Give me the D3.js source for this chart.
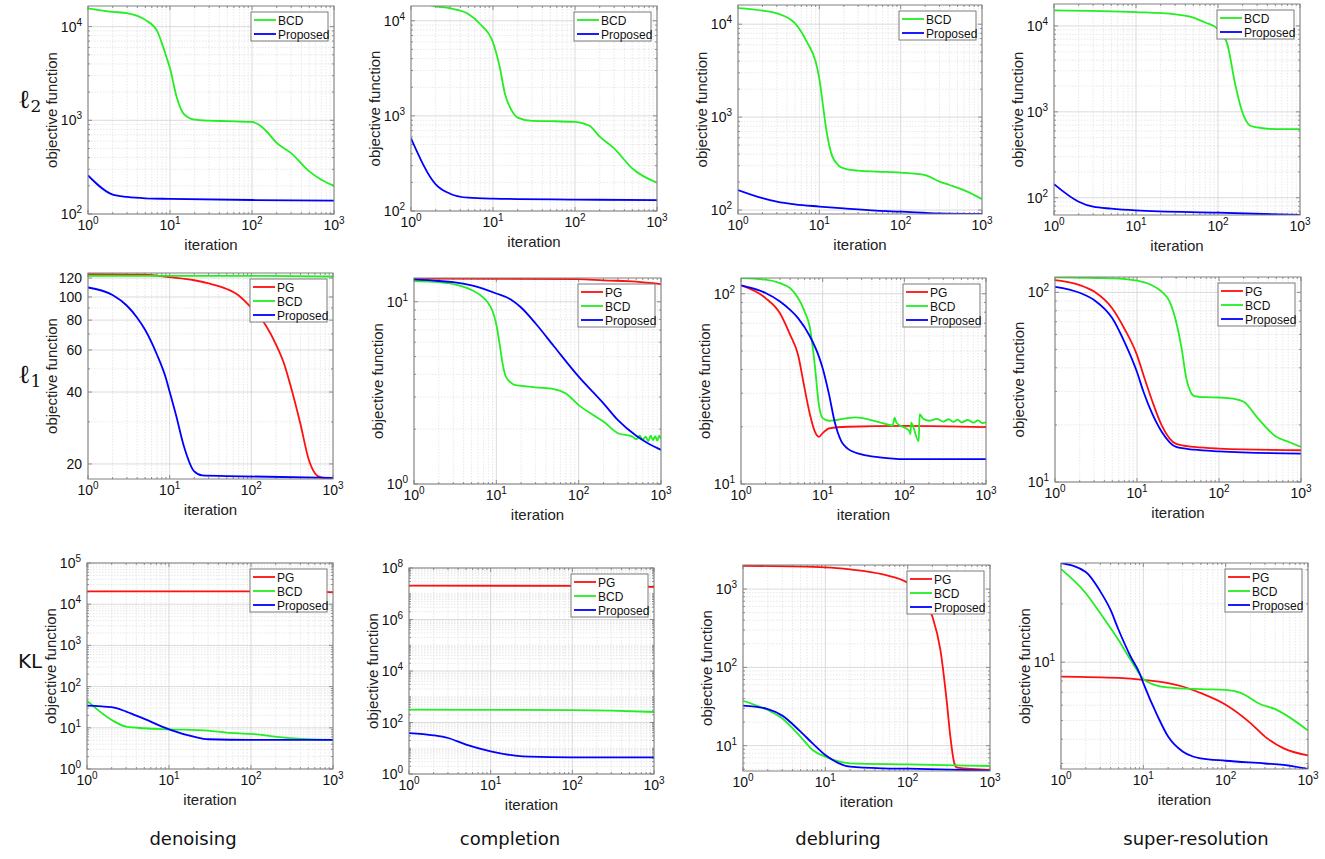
<!DOCTYPE html>
<html><head><meta charset="utf-8">
<script src="https://cdn.jsdelivr.net/npm/d3@7"></script>
<style>body{margin:0;background:#fff;} svg{display:block;font-family:"Liberation Sans",Arial,sans-serif;}</style>
</head><body><svg id="c" width="1325" height="859"></svg>
<script>
// ---------- categories ----------
const tasks = ["denoising", "completion", "debluring", "super-resolution"];
const losses = ["ℓ2", "ℓ1", "KL"];
const methods = ["PG", "BCD", "Proposed"];
const xTicks = [1, 10, 100, 1000];

// ---------- series values: [iteration, objective] ----------
// l2 row
const l2_den_BCD = [[1,15700],[2,14400],[3,13900],[5,11800],[7,8900],[8.2,6150],[9,4800],[10,3600],[12,1800],[15,1150],[20,1015],[30,990],[50,980],[100,960],[120,900],[150,764],[200,573],[300,447],[500,285],[700,232],[1000,200]];
const l2_den_Prop = [[1,258],[2,161],[3,152],[5,147],[10,145],[100,141],[1000,139]];
const l2_com_BCD = [[1,16500],[2,14200],[3,13500],[5,11800],[7,9200],[10,5900],[12,3340],[14,1700],[17,1130],[20,960],[30,885],[50,880],[100,865],[150,787],[200,606],[300,456],[500,280],[1000,198]];
const l2_com_Prop = [[1,582],[2,191],[3,152],[5,138],[10,135],[100,132],[1000,130]];
const l2_deb_BCD = [[1,14900],[2,14000],[3,13100],[5,10250],[7,6500],[9,3970],[10,2600],[11,1410],[12,793],[14,408],[17,305],[20,281],[30,265],[50,259],[100,253],[200,238],[300,202],[400,186],[600,164],[1000,131]];
const l2_deb_Prop = [[1,164],[2,134],[3,123],[5,115],[10,109],[20,104],[50,98.4],[100,96],[300,92],[1000,90.6]];
const l2_sr_BCD = [[1,15200],[10,14500],[30,13650],[50,12500],[70,10950],[100,9200],[130,6100],[162,2100],[195,1035],[247,690],[300,660],[500,630],[1000,630]];
const l2_sr_Prop = [[1,144],[2,90],[3,78.7],[5,74.7],[10,71.3],[100,67],[1000,63]];
// l1 row
const l1_den_PG = [[1,124.7],[5,123.9],[10,121],[20,117.5],[30,114],[50,108],[70,101.5],[100,90.1],[150,76.2],[200,63.4],[250,52.9],[300,42.9],[400,29.3],[500,21.1],[600,18.3],[700,17.6],[1000,17.3]];
const l1_den_BCD = [[1,122.7],[100,122.5],[1000,121.8]];
const l1_den_Prop = [[1,109.6],[2,101.9],[3,91.9],[4,81.9],[5,72.9],[7,57.3],[9,45.7],[10,40.1],[12,31.9],[15,23.6],[20,18.6],[25,17.9],[50,17.8],[1000,17.5]];
const l1_com_PG = [[1,13.4],[100,13.3],[200,13.1],[500,12.9],[1000,12.5]];
const l1_com_BCD = [[1,13.0],[2,12.8],[3,12.5],[5,11.6],[7,10.5],[8,9.8],[9,8.9],[10,7.5],[11,5.8],[12,4.5],[13,3.9],[15,3.6],[17,3.49],[20,3.46],[30,3.39],[50,3.32],[70,3.14],[100,2.71],[150,2.39],[200,2.2],[300,1.9],[450,1.82],[500,1.76],[550,1.84],[600,1.75],[650,1.82],[700,1.72],[750,1.84],[800,1.74],[850,1.83],[900,1.73],[950,1.84],[1000,1.76]];
const l1_com_Prop = [[1,13.26],[2,13.0],[3,12.8],[5,12.3],[10,11.1],[15,10.3],[20,9.3],[30,7.6],[50,5.7],[100,3.88],[200,2.77],[300,2.24],[500,1.84],[700,1.67],[1000,1.54]];
const l1_deb_PG = [[1,110.7],[2,94.9],[3,79],[4,60.8],[5,47.7],[6,31.9],[7,23.1],[8,18.9],[9,17.7],[10,18.5],[12,19.6],[20,20.0],[100,20.2],[1000,19.9]];
const l1_deb_BCD = [[1,120.8],[2,118.5],[3,113.6],[4,107],[5,94.9],[6,80.8],[7,65.9],[8,42.3],[9,26],[10,22.2],[12,21.5],[20,22.2],[25,22.4],[50,21.1],[72,20.3],[76,22.3],[80,21.0],[115,19.0],[119,18.3],[121,21.0],[150,16.8],[154,23.3],[170,22.0],[200,21.5],[250,22.0],[300,21.3],[350,21.9],[400,21.2],[450,21.8],[500,21.1],[600,21.7],[700,21.0],[800,21.6],[900,20.9],[1000,21.1]];
const l1_deb_Prop = [[1,110.7],[2,100.9],[3,91.1],[4,82.3],[5,74.5],[7,59.6],[9,46.7],[10,40.6],[12,29.4],[14,21.3],[17,16.7],[20,15.4],[30,14.3],[50,13.8],[100,13.5],[1000,13.5]];
const l1_sr_PG = [[1,116.1],[2,109.3],[3,100.9],[5,82.2],[7,64.5],[10,46.7],[12,36.6],[15,27.5],[20,19.9],[30,15.9],[50,15.3],[100,15],[1000,14.7]];
const l1_sr_BCD = [[1,120],[5,118.6],[10,115.3],[15,109.4],[20,100.9],[25,89.3],[30,70],[35,50.6],[40,35.1],[45,29.9],[50,28.4],[70,28],[100,27.9],[150,27.5],[200,26.5],[300,21.6],[500,17.3],[700,16.3],[1000,15.3]];
const l1_sr_Prop = [[1,107],[2,99.5],[3,91.1],[5,73],[7,55],[10,38],[12,29.9],[15,23.4],[20,18.4],[30,15.3],[50,14.8],[100,14.5],[1000,14.1]];
// KL row
const kl_den_PG = [[1,20500],[500,20400],[1000,19400]];
const kl_den_BCD = [[1,45.8],[2,15.5],[3,10.7],[5,9.75],[10,9.2],[30,8.55],[50,7.64],[100,7.1],[300,5.6],[1000,5.07]];
const kl_den_Prop = [[1,34.7],[2,31.6],[3,24.8],[5,16.4],[10,9.2],[20,6.1],[30,5.27],[100,5.07],[1000,5.07]];
const kl_com_PG = [[1,2.06e7],[500,2.03e7],[1000,1.83e7]];
const kl_com_BCD = [[1,315],[100,305],[300,290],[1000,256]];
const kl_com_Prop = [[1,39],[2,31.8],[3,25],[5,13.8],[10,7.6],[20,5.15],[30,4.7],[100,4.44],[1000,4.44]];
const kl_deb_PG = [[1,1986],[10,1892],[20,1783],[50,1538],[100,1204],[150,798],[200,444],[250,166],[300,34.7],[330,13],[370,5.9],[400,5.23],[1000,4.89]];
const kl_deb_BCD = [[1,37.5],[2,28.5],[3,22.3],[5,13],[7,8.8],[10,7.24],[20,5.95],[100,5.78],[1000,5.5]];
const kl_deb_Prop = [[1,32.4],[2,29.4],[3,24.2],[5,15.1],[7,10.7],[10,7.6],[20,5.4],[50,5.14],[100,5.09],[1000,4.8]];
const kl_sr_PG = [[1,8.43],[5,8.3],[10,8.11],[20,7.8],[30,7.49],[50,6.92],[100,6.03],[200,4.85],[300,4.13],[500,3.6],[1000,3.3]];
const kl_sr_BCD = [[1,30.2],[2,22.7],[3,17.9],[5,13],[7,10.3],[10,8.2],[15,7.55],[20,7.42],[50,7.26],[100,7.2],[150,6.97],[200,6.52],[250,6.14],[400,5.72],[1000,4.44]];
const kl_sr_Prop = [[1,32.5],[2,29.2],[3,23.2],[4,18.6],[5,14.7],[7,10.7],[9,8.77],[10,7.79],[15,5.24],[20,4.13],[30,3.46],[40,3.26],[50,3.19],[100,3.1],[300,3.0],[500,2.95],[1000,2.81]];

// ---------- y-axis ranges and tick labels ----------
const yDomains = [
  [100,16600],[100,14300],[90.6,16100],[63,18000],
  [17.3,126],[1,13.5],[10,121],[10,120.5],
  [1,1e5],[1,1e8],[4.75,2030],[2.81,32.5]
];
const yTicksList = [
  [1e2,1e3,1e4],[1e2,1e3,1e4],[1e2,1e3,1e4],[1e2,1e3,1e4],
  [20,40,60,80,100,120],[1,10],[10,100],[10,100],
  [1,10,100,1e3,1e4,1e5],[1,1e2,1e4,1e6,1e8],[10,100,1000],[10]
];
const panelSeries = [
  [["BCD",l2_den_BCD],["Proposed",l2_den_Prop]],
  [["BCD",l2_com_BCD],["Proposed",l2_com_Prop]],
  [["BCD",l2_deb_BCD],["Proposed",l2_deb_Prop]],
  [["BCD",l2_sr_BCD],["Proposed",l2_sr_Prop]],
  [["PG",l1_den_PG],["BCD",l1_den_BCD],["Proposed",l1_den_Prop]],
  [["PG",l1_com_PG],["BCD",l1_com_BCD],["Proposed",l1_com_Prop]],
  [["PG",l1_deb_PG],["BCD",l1_deb_BCD],["Proposed",l1_deb_Prop]],
  [["PG",l1_sr_PG],["BCD",l1_sr_BCD],["Proposed",l1_sr_Prop]],
  [["PG",kl_den_PG],["BCD",kl_den_BCD],["Proposed",kl_den_Prop]],
  [["PG",kl_com_PG],["BCD",kl_com_BCD],["Proposed",kl_com_Prop]],
  [["PG",kl_deb_PG],["BCD",kl_deb_BCD],["Proposed",kl_deb_Prop]],
  [["PG",kl_sr_PG],["BCD",kl_sr_BCD],["Proposed",kl_sr_Prop]]
];

// ---------- layout (pixel boxes: left, top, right, bottom) ----------
const boxes = [
  [88,6,334,214],[411,6,657,211],[738,5,982,214],[1054,4,1300,215],
  [88,273,333,479],[414,278,661,484],[741,278,986,484],[1055,277,1301,482],
  [87,563,333,769],[409,568,654,774],[743,565,990,771],[1061,563,1308,769]
];
const colors = {PG:"#ff1010", BCD:"#22ee22", Proposed:"#0000ff"};

const svg = d3.select("#c");
svg.append("rect").attr("width",1325).attr("height",859).attr("fill","#fff");
const defs = svg.append("defs");

function expLabel(sel, v){
  const e = Math.round(Math.log10(v));
  sel.append("tspan").text("10");
  sel.append("tspan").attr("dy",-6).attr("font-size",10).text(e);
}

boxes.forEach((b,i)=>{
  const [x0,y0,x1,y1] = b;
  const x = d3.scaleLog().domain([1,1000]).range([x0,x1]);
  const y = d3.scaleLog().domain(yDomains[i]).range([y1,y0]);
  const g = svg.append("g");
  const yT = yTicksList[i];
  const [lo,hi] = yDomains[i];

  const xMinor = [];
  for(let e=0;e<3;e++) for(let k=2;k<=9;k++) xMinor.push(k*Math.pow(10,e));
  const yMinor = [];
  for(let e=Math.floor(Math.log10(lo))-1;e<=Math.ceil(Math.log10(hi));e++)
    for(let k=1;k<=9;k++){ const v=k*Math.pow(10,e); if(v>lo*1.0001 && v<hi*0.9999 && !yT.some(t=>Math.abs(t-v)/v<1e-6)) yMinor.push(v); }

  g.selectAll(".xm").data(xMinor).join("line")
    .attr("x1",d=>x(d)).attr("x2",d=>x(d)).attr("y1",y0).attr("y2",y1)
    .attr("stroke","#e2e2e2").attr("stroke-width",0.8).attr("stroke-dasharray","1.5,1.5");
  g.selectAll(".ym").data(yMinor).join("line")
    .attr("x1",x0).attr("x2",x1).attr("y1",d=>y(d)).attr("y2",d=>y(d))
    .attr("stroke","#e2e2e2").attr("stroke-width",0.8).attr("stroke-dasharray","1.5,1.5");
  g.selectAll(".xM").data(xTicks).join("line")
    .attr("x1",d=>x(d)).attr("x2",d=>x(d)).attr("y1",y0).attr("y2",y1)
    .attr("stroke","#d2d2d2").attr("stroke-width",0.8);
  g.selectAll(".yM").data(yT).join("line")
    .attr("x1",x0).attr("x2",x1).attr("y1",d=>y(d)).attr("y2",d=>y(d))
    .attr("stroke","#d2d2d2").attr("stroke-width",0.8);

  const tk = g.append("g").attr("stroke","#777").attr("stroke-width",0.8);
  xTicks.forEach(v=>{
    tk.append("line").attr("x1",x(v)).attr("x2",x(v)).attr("y1",y1).attr("y2",y1-4);
    tk.append("line").attr("x1",x(v)).attr("x2",x(v)).attr("y1",y0).attr("y2",y0+4);
  });
  xMinor.forEach(v=>{
    tk.append("line").attr("x1",x(v)).attr("x2",x(v)).attr("y1",y1).attr("y2",y1-2);
    tk.append("line").attr("x1",x(v)).attr("x2",x(v)).attr("y1",y0).attr("y2",y0+2);
  });
  yT.forEach(v=>{
    tk.append("line").attr("x1",x0).attr("x2",x0+4).attr("y1",y(v)).attr("y2",y(v));
    tk.append("line").attr("x1",x1).attr("x2",x1-4).attr("y1",y(v)).attr("y2",y(v));
  });
  yMinor.forEach(v=>{
    tk.append("line").attr("x1",x0).attr("x2",x0+2).attr("y1",y(v)).attr("y2",y(v));
    tk.append("line").attr("x1",x1).attr("x2",x1-2).attr("y1",y(v)).attr("y2",y(v));
  });

  defs.append("clipPath").attr("id","clip"+i).append("rect")
    .attr("x",x0).attr("y",y0).attr("width",x1-x0).attr("height",y1-y0);

  const line = d3.line().x(d=>x(d[0])).y(d=>y(d[1])).curve(d3.curveMonotoneX);
  const lg = g.append("g").attr("clip-path","url(#clip"+i+")");
  panelSeries[i].forEach(([name,data])=>{
    lg.append("path").datum(data).attr("d",line)
      .attr("fill","none").attr("stroke",colors[name]).attr("stroke-width",1.8)
      .attr("stroke-linejoin","round");
  });

  g.append("rect").attr("x",x0).attr("y",y0).attr("width",x1-x0).attr("height",y1-y0)
    .attr("fill","none").attr("stroke","#808080").attr("stroke-width",1);

  xTicks.forEach(v=>{
    const t = g.append("text").attr("x",x(v)).attr("y",y1+16).attr("text-anchor","middle")
      .attr("font-size",14).attr("fill","#111");
    expLabel(t,v);
  });
  yT.forEach(v=>{
    const t = g.append("text").attr("x",x0-6).attr("y",y(v)+5).attr("text-anchor","end")
      .attr("font-size",14).attr("fill","#111");
    if(i===4) t.text(v); else expLabel(t,v);
  });
  g.append("text").attr("x",(x0+x1)/2).attr("y",y1+36).attr("text-anchor","middle")
    .attr("font-size",15).attr("fill","#222").text("iteration");
  g.append("text").attr("transform",`translate(${x0-31},${(y0+y1)/2}) rotate(-90)`)
    .attr("text-anchor","middle").attr("font-size",15).attr("fill","#222").text("objective function");

  const names = panelSeries[i].map(s=>s[0]);
  const lw = 77, rh = 14, lh = rh*names.length+1;
  const lx = x1-6-lw, ly = y0+6;
  const L = g.append("g");
  L.append("rect").attr("x",lx).attr("y",ly).attr("width",lw).attr("height",lh)
    .attr("fill","#fff").attr("stroke","#7a7a7a").attr("stroke-width",1);
  names.forEach((n,j)=>{
    const cy = ly+rh/2+1+j*rh;
    L.append("line").attr("x1",lx+3).attr("x2",lx+25).attr("y1",cy).attr("y2",cy)
      .attr("stroke",colors[n]).attr("stroke-width",1.8);
    L.append("text").attr("x",lx+27).attr("y",cy+4.5).attr("font-size",12).attr("fill","#111").text(n);
  });
});

const rowY = [108, 383, 668];
losses.forEach((l,r)=>{
  const t = svg.append("text").attr("x",18).attr("y",rowY[r]).attr("fill","#111");
  if(l.startsWith("ℓ")){
    t.attr("font-family","DejaVu Serif").attr("font-size",26);
    t.append("tspan").text("ℓ");
    t.append("tspan").attr("font-size",17).attr("dy",4).text(l.slice(1));
  } else {
    t.attr("font-family","DejaVu Sans").attr("font-size",20).text(l);
  }
});
const colX = [193, 510, 838, 1196];
tasks.forEach((t,c)=>{
  svg.append("text").attr("x",colX[c]).attr("y",845).attr("text-anchor","middle")
    .attr("font-family","DejaVu Sans").attr("font-size",18).attr("fill","#111").text(t);
});
</script></body></html>
